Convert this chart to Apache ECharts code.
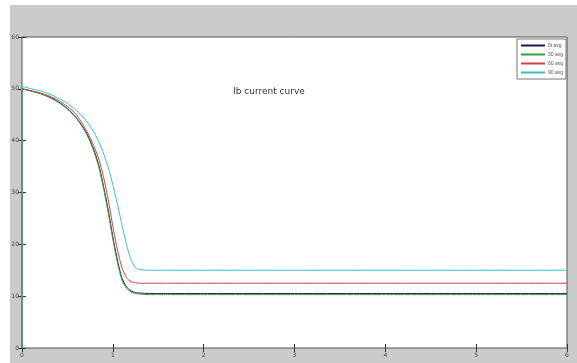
<!DOCTYPE html>
<html>
<head>
<meta charset="utf-8">
<script src="https://cdn.jsdelivr.net/npm/echarts@6/dist/echarts.min.js"></script>
<style>
  html, body { margin: 0; padding: 0; background: #fff; }
  #chart { width: 577px; height: 363px; }
</style>
</head>
<body>
<div id="chart"></div>
<script>
// time axis (s)
const tValues = [0, 0.001, 0.1, 0.2, 0.3, 0.4, 0.5, 0.6, 0.7, 0.75, 0.8, 0.85, 0.9, 0.95, 1.0, 1.05, 1.1, 1.15, 1.2, 1.25, 1.3, 1.4, 1.6, 2, 3, 4, 5, 6]

const seriesNames = ['0t avg', '30 avg', '60 avg', '90 avg']
const seriesColors = ['#1a1a4a', '#3c9a3c', '#d04040', '#30c0c8']

// Ib 电流曲线
const curveA = [0, 50, 49.6, 49.1, 48.4, 47.5, 46.2, 44.4, 41.8, 40, 37.8, 35, 31, 26.5, 21.5, 17, 13.5, 11.8, 11, 10.7, 10.6, 10.5, 10.5, 10.5, 10.5, 10.5, 10.5, 10.5]
const curveB = [0, 50, 49.6, 49.1, 48.4, 47.4, 46.1, 44.3, 41.6, 39.8, 37.5, 34.6, 30.6, 26, 21, 16.5, 13.1, 11.5, 10.8, 10.5, 10.4, 10.3, 10.3, 10.3, 10.3, 10.3, 10.3, 10.3]
const curveC = [0, 50, 49.6, 49.2, 48.6, 47.8, 46.6, 45, 42.2, 40.6, 38.6, 36.2, 32.8, 28.5, 23.5, 19, 15.5, 13.6, 12.8, 12.6, 12.5, 12.5, 12.5, 12.5, 12.5, 12.5, 12.5, 12.5]
const curveD = [0, 50.5, 50, 49.6, 49, 48.2, 47.2, 45.8, 44, 42.8, 41.4, 39.6, 37.4, 34.8, 31.5, 27.8, 23.8, 20, 17, 15.5, 15.1, 15, 15, 15, 15, 15, 15, 15]
const curves = [curveA, curveB, curveC, curveD]

const xTicks = [0, 1, 2, 3, 4, 5, 6]
const yTicks = [0, 10, 20, 30, 40, 50, 60]

const chart = echarts.init(document.getElementById('chart'))

const tickStyle = { inside: true, length: 4, lineStyle: { color: '#333', width: 1 } }
const labelStyle = { fontSize: 6, color: '#444', fontFamily: 'DejaVu Sans' }

const option = {
  animation: false,
  backgroundColor: '#fff',
  graphic: [
    {
      type: 'rect',
      shape: { x: 10, y: 5, width: 567, height: 358 },
      style: { fill: '#cbcbcb' },
      z: -10,
      silent: true,
    },
    {
      type: 'text',
      left: 233,
      top: 87,
      style: { text: 'Ib current curve', fontSize: 9, fill: '#333', fontFamily: 'DejaVu Sans' },
      z: 10,
    },
  ],
  grid: {
    left: 22,
    right: 10,
    top: 37,
    bottom: 15,
    show: true,
    backgroundColor: '#fff',
    borderColor: '#555',
    borderWidth: 1,
  },
  legend: {
    orient: 'vertical',
    right: 11,
    top: 39,
    data: seriesNames,
    itemWidth: 24,
    itemHeight: 2,
    itemGap: 4,
    icon: 'rect',
    backgroundColor: '#fff',
    borderColor: '#777',
    borderWidth: 1,
    padding: [4, 3, 4, 4],
    textStyle: { fontSize: 5, color: '#555', padding: [0, 0, 0, -2] },
  },
  xAxis: [
    {
      type: 'value',
      min: 0,
      max: 6,
      interval: 1,
      axisLine: { show: false },
      axisTick: tickStyle,
      splitLine: { show: false },
      axisLabel: Object.assign({ margin: 4, formatter: v => xTicks.includes(v) ? String(v) : '' }, labelStyle),
    },
    {
      type: 'value',
      position: 'top',
      min: 0,
      max: 6,
      interval: 1,
      axisLine: { show: false },
      axisTick: tickStyle,
      splitLine: { show: false },
      axisLabel: { show: false },
    },
  ],
  yAxis: [
    {
      type: 'value',
      min: 0,
      max: 60,
      interval: 10,
      axisLine: { show: false },
      axisTick: tickStyle,
      splitLine: { show: false },
      axisLabel: Object.assign({ margin: 3, formatter: v => yTicks.includes(v) ? String(v) : '' }, labelStyle),
    },
    {
      type: 'value',
      position: 'right',
      min: 0,
      max: 60,
      interval: 10,
      axisLine: { show: false },
      axisTick: tickStyle,
      splitLine: { show: false },
      axisLabel: { show: false },
    },
  ],
  series: curves.map((vals, i) => ({
    name: seriesNames[i],
    type: 'line',
    data: tValues.map((t, j) => [t, vals[j]]),
    smooth: 0.2,
    symbol: 'none',
    lineStyle: { color: seriesColors[i], width: 1 },
    itemStyle: { color: seriesColors[i] },
  })),
}

chart.setOption(option)
</script>
</body>
</html>
